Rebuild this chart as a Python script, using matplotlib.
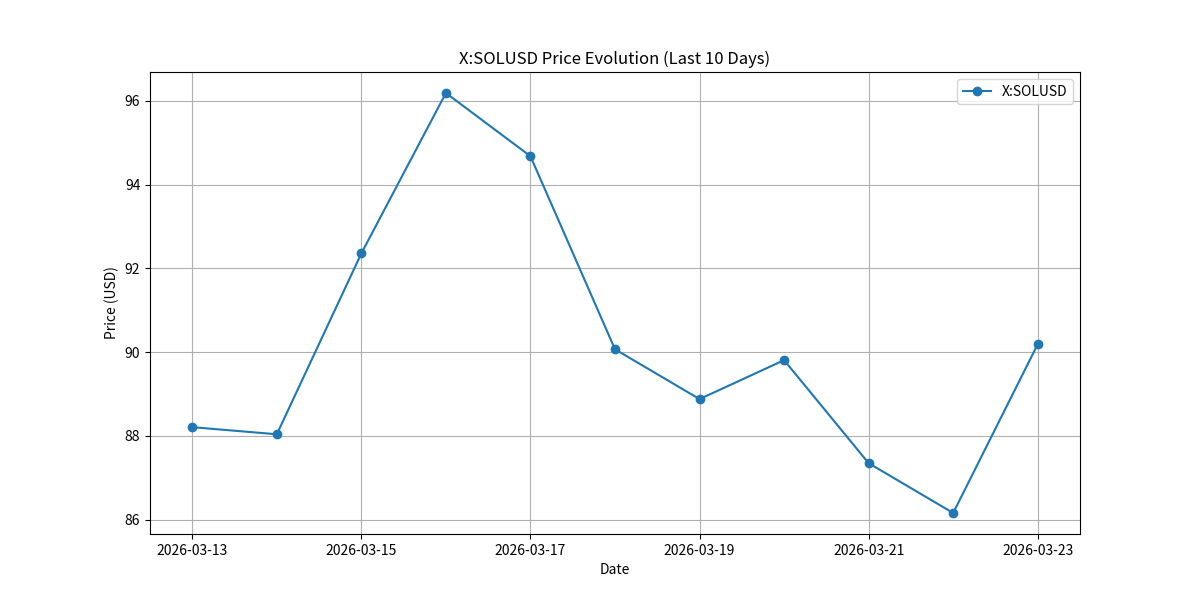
import matplotlib
matplotlib.use("Agg")
import matplotlib.pyplot as plt
import pandas as pd

plt.rcParams["font.family"] = ["Noto Sans CJK SC", "DejaVu Sans"]

ticker = "X:SOLUSD"
dates = pd.date_range("2026-03-13", "2026-03-23", freq="D")
prices = [88.21, 88.04, 92.36, 96.19, 94.68, 90.07, 88.88, 89.81, 87.35, 86.16, 90.19]

fig, ax = plt.subplots(figsize=(12, 6))
ax.plot(dates, prices, marker="o", label=ticker)
ax.set_title(f"{ticker} Price Evolution (Last 10 Days)")
ax.set_xlabel("Date")
ax.set_ylabel("Price (USD)")
ax.grid(True)
ax.legend()
fig.savefig("out.png", dpi=100)
